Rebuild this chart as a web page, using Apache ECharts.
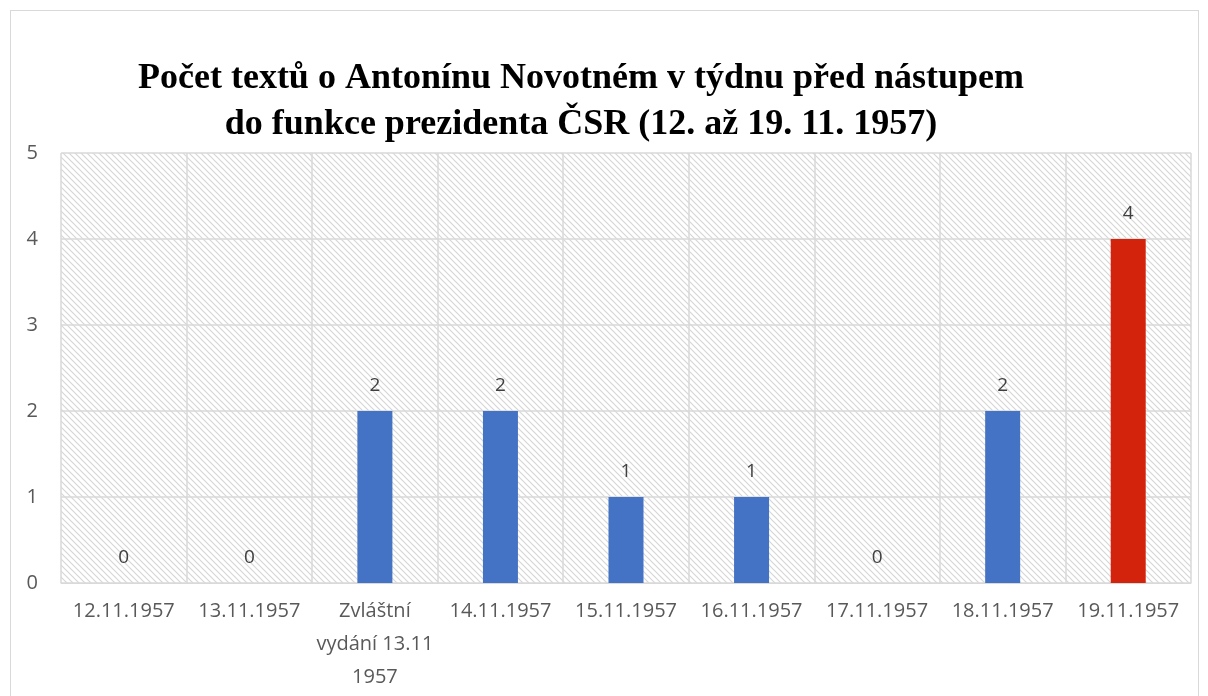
<!DOCTYPE html>
<html>
<head>
<meta charset="utf-8">
<script src="https://cdn.jsdelivr.net/npm/echarts@6/dist/echarts.min.js"></script>
<style>
  html, body { margin: 0; padding: 0; background: #fff; }
  #chart { width: 1208px; height: 696px; }
  .frame { position: absolute; left: 10px; top: 10px; width: 1187px; height: 700px; border: 1px solid #d9d9d9; }
</style>
</head>
<body>
<div class="frame"></div>
<div id="chart" style="position:absolute;left:0;top:0;"></div>
<script>
const categories = ['12.11.1957', '13.11.1957', 'Zvláštní\nvydání 13.11\n1957', '14.11.1957',
  '15.11.1957', '16.11.1957', '17.11.1957', '18.11.1957', '19.11.1957'];
const counts = [0, 0, 2, 2, 1, 1, 0, 2, 4];
const barColors = ['#4472c4', '#4472c4', '#4472c4', '#4472c4', '#4472c4', '#4472c4', '#4472c4', '#4472c4', '#d4230c'];

// hatched plot background
function hatch() {
  const c = document.createElement('canvas');
  c.width = 6; c.height = 6;
  const g = c.getContext('2d');
  g.fillStyle = '#ffffff';
  g.fillRect(0, 0, 6, 6);
  g.strokeStyle = '#d6d6d6';
  g.lineWidth = 1.2;
  g.beginPath();
  g.moveTo(-1, -1); g.lineTo(7, 7);
  g.moveTo(-4, 2); g.lineTo(4, 10);
  g.moveTo(2, -4); g.lineTo(10, 4);
  g.stroke();
  return c;
}

const chart = echarts.init(document.getElementById('chart'));
chart.setOption({
  animation: false,
  title: {
    text: 'Počet textů o Antonínu Novotném v týdnu před nástupem\ndo funkce prezidenta ČSR (12. až 19. 11. 1957)',
    left: 576,
    top: 51,
    textAlign: 'center',
    textStyle: {
      fontFamily: 'Liberation Serif',
      fontSize: 36,
      fontWeight: 'bold',
      color: '#000',
      lineHeight: 46
    }
  },
  grid: {
    left: 61, right: 17, top: 153, bottom: 113,
    show: true,
    borderWidth: 0,
    backgroundColor: { image: hatch(), repeat: 'repeat' }
  },
  xAxis: {
    type: 'category',
    data: categories,
    axisLine: { lineStyle: { color: '#d9d9d9', width: 1 } },
    axisTick: { show: false },
    splitLine: { show: true, lineStyle: { color: '#d9d9d9', width: 1.5 } },
    axisLabel: {
      color: '#595959', fontSize: 20, fontFamily: 'Open Sans',
      interval: 0, margin: 12, lineHeight: 33
    }
  },
  yAxis: {
    type: 'value',
    min: 0, max: 5, interval: 1,
    axisLine: { show: false },
    axisTick: { show: false },
    splitLine: { lineStyle: { color: '#d9d9d9', width: 1.5 } },
    axisLabel: { color: '#595959', fontSize: 20, fontFamily: 'Open Sans', margin: 23 }
  },
  series: [{
    type: 'bar',
    data: counts.map((v, i) => ({ value: v, itemStyle: { color: barColors[i] } })),
    barWidth: 35,
    label: {
      show: true, position: 'top', distance: 16,
      color: '#404040', fontSize: 19, fontFamily: 'Open Sans'
    }
  }]
});
</script>
</body>
</html>
